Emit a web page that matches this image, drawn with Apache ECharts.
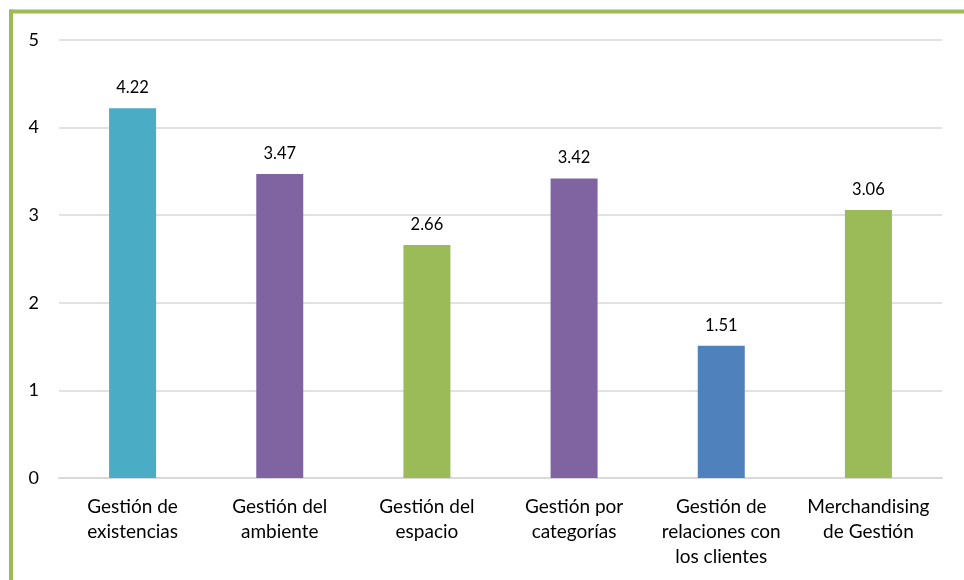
<!DOCTYPE html>
<html>
<head>
<meta charset="utf-8">
<script src="https://cdn.jsdelivr.net/npm/echarts@6/dist/echarts.min.js"></script>
<style>
  html, body { margin: 0; padding: 0; background: #fff; }
  #chart { width: 964px; height: 580px; }
</style>
</head>
<body>
<div id="chart"></div>
<script>
// data
const categories = [
  'Gestión de\nexistencias',
  'Gestión del\nambiente',
  'Gestión del\nespacio',
  'Gestión por\ncategorías',
  'Gestión de\nrelaciones con\nlos clientes',
  'Merchandising\nde Gestión'
];
const values = [4.22, 3.47, 2.66, 3.42, 1.51, 3.06];
const barColors = ['#4BACC6', '#8064A2', '#9BBB59', '#8064A2', '#4F81BD', '#9BBB59'];

const font = 'Lato, "Open Sans", sans-serif';
const chart = echarts.init(document.getElementById('chart'));

chart.setOption({
  animation: false,
  grid: { left: 59, right: 22, top: 40, bottom: 102 },
  xAxis: {
    type: 'category',
    data: categories,
    axisLine: { lineStyle: { color: '#d9d9d9', width: 2 } },
    axisTick: { show: false },
    axisLabel: { color: '#000', fontFamily: font, fontSize: 19, lineHeight: 25, margin: 16, interval: 0 }
  },
  yAxis: {
    type: 'value',
    min: 0,
    max: 5,
    interval: 1,
    axisLine: { show: false },
    axisTick: { show: false },
    splitLine: { lineStyle: { color: '#d9d9d9', width: 1.5 } },
    axisLabel: { color: '#000', fontFamily: font, fontSize: 18, margin: 20 }
  },
  series: [{
    type: 'bar',
    barWidth: 47,
    data: values.map((v, i) => ({ value: v, itemStyle: { color: barColors[i] } })),
    label: {
      show: true,
      position: 'top',
      distance: 12,
      color: '#000',
      fontFamily: font,
      fontSize: 16.5,
      formatter: p => p.value.toFixed(2)
    }
  }],
  graphic: [
    { type: 'line', shape: { x1: 11, y1: 9.5, x2: 11, y2: 580 }, style: { stroke: '#9BBB59', lineWidth: 4 } },
    { type: 'line', shape: { x1: 9, y1: 11.5, x2: 964, y2: 11.5 }, style: { stroke: '#9BBB59', lineWidth: 4 } }
  ]
});
</script>
</body>
</html>
